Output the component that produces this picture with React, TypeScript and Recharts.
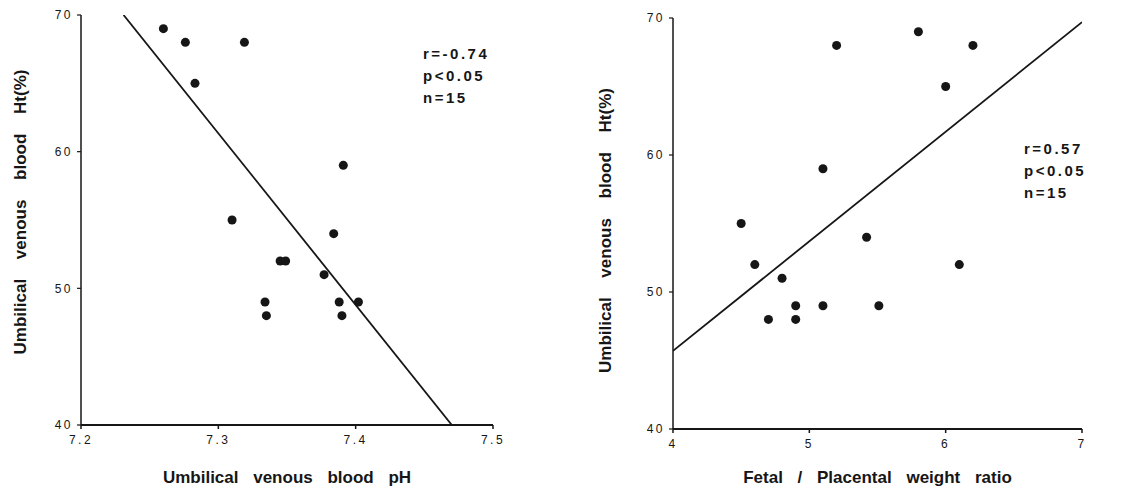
import { Customized, Label, Scatter, ScatterChart, XAxis, YAxis } from "recharts";

const INK = "#161616";
const FONT = "'Liberation Sans', Arial, sans-serif";

// left panel: pH vs Ht
const PH = [7.26, 7.276, 7.283, 7.319, 7.31, 7.391, 7.384, 7.345, 7.349, 7.377, 7.334, 7.335, 7.388, 7.402, 7.39];
const HT_LEFT = [69, 68, 65, 68, 55, 59, 54, 52, 52, 51, 49, 48, 49, 49, 48];
const PH_FIT_X = [7.231, 7.47];
const PH_FIT_Y = [70, 40];
const PH_TICKS = [7.2, 7.3, 7.4, 7.5];

// right panel: fetal/placental ratio vs Ht
const RATIO = [4.5, 4.6, 4.8, 4.7, 4.9, 4.9, 5.1, 5.1, 5.2, 5.42, 5.51, 5.8, 6.0, 6.1, 6.2];
const HT_RIGHT = [55, 52, 51, 48, 49, 48, 49, 59, 68, 54, 49, 69, 65, 52, 68];
const RATIO_FIT_X = [4, 7];
const RATIO_FIT_Y = [45.7, 69.7];
const RATIO_TICKS = [4, 5, 6, 7];

const HT_TICKS = [40, 50, 60, 70];
const Y_TITLE = "Umbilical venous blood Ht(%)";

const pairs = (xs: number[], ys: number[]) => xs.map((x, i) => ({ x, y: ys[i] }));

const tickStyle = { fontSize: 12, fill: INK, fontFamily: FONT, letterSpacing: 2.5 };

function yTitle(dx: number, dy: number) {
  return (props: any) => {
    const vb = props.viewBox;
    const x = vb.x + dx;
    const y = vb.y + vb.height / 2 + dy;
    return (
      <text
        transform={`translate(${x},${y}) rotate(-90)`}
        textAnchor="middle"
        dominantBaseline="central"
        fontFamily={FONT}
        fontWeight="bold"
        fontSize={17}
        wordSpacing={15}
        fill={INK}
      >
        {Y_TITLE}
      </text>
    );
  };
}

function xTitle(text: string, dy: number) {
  return (props: any) => {
    const vb = props.viewBox;
    return (
      <text
        x={vb.x + vb.width / 2}
        y={vb.y + dy}
        textAnchor="middle"
        dominantBaseline="central"
        fontFamily={FONT}
        fontWeight="bold"
        fontSize={17}
        wordSpacing={10}
        fill={INK}
      >
        {text}
      </text>
    );
  };
}

function Stats({ x, y, lines }: { x: number; y: number; lines: string[] }) {
  return (
    <g>
      {lines.map((s, i) => (
        <text
          key={s}
          x={x}
          y={y + i * 22}
          dominantBaseline="central"
          fontFamily={FONT}
          fontWeight="bold"
          fontSize={15}
          letterSpacing={2.5}
          fill={INK}
        >
          {s}
        </text>
      ))}
    </g>
  );
}

const noDot = () => <g />;

function Panel(props: {
  width: number;
  margin: { top: number; right: number; bottom: number; left: number };
  yAxisWidth: number;
  xs: number[];
  ys: number[];
  fitX: number[];
  fitY: number[];
  xDomain: [number, number];
  xTicks: number[];
  xFormat: (v: number) => string;
  xLabel: string;
  xLabelDy: number;
  yLabelDx: number;
  yLabelDy: number;
  stats: string[];
  statsX: number;
  statsY: number;
}) {
  return (
    <ScatterChart width={props.width} height={486} margin={props.margin}>
      <XAxis
        type="number"
        dataKey="x"
        domain={props.xDomain}
        ticks={props.xTicks}
        tickFormatter={props.xFormat}
        allowDataOverflow
        axisLine={{ stroke: INK, strokeWidth: 2 }}
        tickLine={{ stroke: INK, strokeWidth: 1.5 }}
        tickSize={4}
        tickMargin={6}
        tick={tickStyle}
        height={30}
      >
        <Label content={xTitle(props.xLabel, props.xLabelDy)} />
      </XAxis>
      <YAxis
        type="number"
        dataKey="y"
        domain={[40, 70]}
        ticks={HT_TICKS}
        allowDataOverflow
        axisLine={{ stroke: INK, strokeWidth: 1.5 }}
        tickLine={{ stroke: INK, strokeWidth: 1.2 }}
        tickSize={4}
        tickMargin={4}
        tick={tickStyle}
        width={props.yAxisWidth}
      >
        <Label content={yTitle(props.yLabelDx, props.yLabelDy)} />
      </YAxis>
      <Scatter data={pairs(props.xs, props.ys)} fill={INK} isAnimationActive={false} shape="circle" />
      <Scatter
        data={pairs(props.fitX, props.fitY)}
        line={{ stroke: INK, strokeWidth: 1.8 }}
        shape={noDot}
        isAnimationActive={false}
      />
      <Customized component={<Stats x={props.statsX} y={props.statsY} lines={props.stats} />} />
    </ScatterChart>
  );
}

export default function App() {
  return (
    <div style={{ position: "absolute", left: 0, top: 0, width: 1141, height: 486, background: "#fff" }}>
      <div style={{ position: "absolute", left: 0, top: 0 }}>
        <Panel
          width={570}
          margin={{ top: 15, right: 77, bottom: 31, left: 0 }}
          yAxisWidth={81}
          xs={PH}
          ys={HT_LEFT}
          fitX={PH_FIT_X}
          fitY={PH_FIT_Y}
          xDomain={[7.2, 7.5]}
          xTicks={PH_TICKS}
          xFormat={(v) => v.toFixed(1)}
          xLabel="Umbilical venous blood pH"
          xLabelDy={52}
          yLabelDx={20}
          yLabelDy={-8}
          stats={["r=-0.74", "p<0.05", "n=15"]}
          statsX={423}
          statsY={53}
        />
      </div>
      <div style={{ position: "absolute", left: 570, top: 0 }}>
        <Panel
          width={571}
          margin={{ top: 18, right: 59, bottom: 27, left: 0 }}
          yAxisWidth={103}
          xs={RATIO}
          ys={HT_RIGHT}
          fitX={RATIO_FIT_X}
          fitY={RATIO_FIT_Y}
          xDomain={[4, 7]}
          xTicks={RATIO_TICKS}
          xFormat={(v) => String(v)}
          xLabel="Fetal / Placental weight ratio"
          xLabelDy={48}
          yLabelDx={35}
          yLabelDy={7}
          stats={["r=0.57", "p<0.05", "n=15"]}
          statsX={454}
          statsY={148}
        />
      </div>
    </div>
  );
}
